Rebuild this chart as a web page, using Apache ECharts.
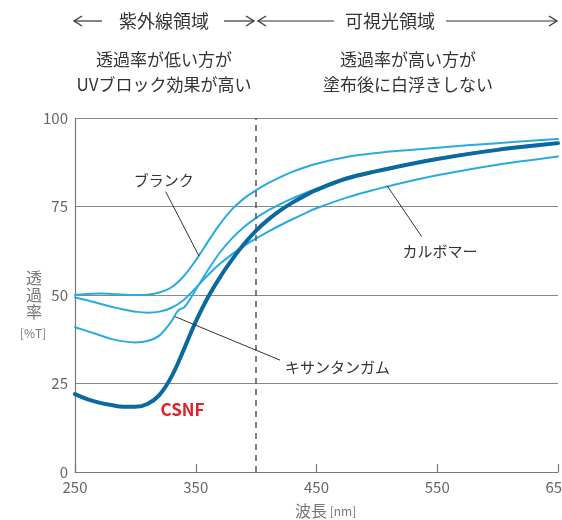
<!DOCTYPE html>
<html><head><meta charset="utf-8">
<script src="https://cdn.jsdelivr.net/npm/echarts@6.0.0/dist/echarts.min.js"></script>
<style>html,body{margin:0;padding:0;background:#fff}#c{width:562px;height:520px}</style>
</head><body><div id="c"></div>
<script>
// ---- data (wavelength nm, transmittance %T) ----
const wavelengths = [250,260,270,280,290,300,310,320,330,340,350,360,370,380,390,400,410,420,430,440,450,475,500,525,550,575,600,625,650];
const blank    = [50.0,50.3,50.4,50.3,50.1,50.0,50.1,50.7,52.2,55.3,59.8,65.0,70.0,74.2,77.3,79.6,81.6,83.3,84.8,86.0,87.1,89.0,90.1,90.9,91.6,92.3,92.9,93.5,94.1];
const carbomer = [49.3,48.5,47.6,46.7,45.9,45.3,45.0,45.3,46.4,48.6,52.0,55.6,58.8,61.5,63.9,66.0,67.9,69.7,71.4,73.0,74.5,77.5,79.9,82.0,83.8,85.4,86.8,88.0,89.1];
const csnf     = [22.0,20.6,19.6,18.9,18.4,18.4,19.2,21.8,27.0,34.5,42.5,49.3,55.0,60.0,64.4,68.2,71.3,73.9,76.1,78.0,79.7,82.9,85.0,86.8,88.4,89.8,91.0,92.0,92.9];
const xanthanWavelengths = [250,260,270,280,290,300,310,320,330,334,337,340,343,350,360,370,380,390,400,410,420,430,440,450,475,500,525,550,575,600,625,650];
const xanthan  = [40.9,39.8,38.7,37.6,36.9,36.6,37.0,38.6,42.6,45.0,46.0,46.4,47.6,51.5,57.0,62.0,66.0,69.2,71.8,73.9,75.7,77.3,78.7,80.0,83.2,85.2,86.9,88.6,90.0,91.2,92.2,93.1];
const xTicks = [250,350,450,550,650];
const yTicks = [0,25,50,75,100];
const boundaryWavelength = 400;
const seriesNames = ['ブランク','カルボマー','キサンタンガム','CSNF'];

const FONT = "'Noto Sans CJK JP', 'Noto Sans', sans-serif";
const LIGHT = '#2aaae2', DARK = '#0a6a9e';
const pair = (xs, ys) => xs.map((x, i) => [x, ys[i]]);

const chart = echarts.init(document.getElementById('c'), null, {renderer: 'canvas'});
function lineSeries(name, data, color, width, z, smooth) {
  return {name, type: 'line', data, smooth, symbol: 'none', z,
    lineStyle: {color, width, cap: 'round', join: 'round'}, emphasis: {disabled: true}, animation: false};
}
const s = [
  lineSeries(seriesNames[0], pair(wavelengths, blank), LIGHT, 2, 2, 0.4),
  lineSeries(seriesNames[1], pair(wavelengths, carbomer), LIGHT, 2, 2, 0.4),
  lineSeries(seriesNames[2], pair(xanthanWavelengths, xanthan), LIGHT, 2, 2, 0.3),
  lineSeries(seriesNames[3], pair(wavelengths, csnf), DARK, 4, 3, 0.4)
];
s[0].markLine = {silent: true, symbol: 'none', animation: false,
  lineStyle: {color: '#555', type: [6, 5], width: 1.5}, label: {show: false},
  data: [{xAxis: boundaryWavelength}]};

chart.setOption({
  animation: false,
  backgroundColor: '#fff',
  grid: {left: 75, right: 4, top: 118, bottom: 48, containLabel: false, outerBoundsMode: 'none'},
  xAxis: {type: 'value', min: xTicks[0], max: xTicks[xTicks.length-1], interval: 100,
    axisLine: {lineStyle: {color: '#777', width: 1.2}},
    axisTick: {show: true, inside: true, length: 8, lineStyle: {color: '#777', width: 1.2}},
    axisLabel: {color: '#666', fontSize: 15, fontFamily: FONT, margin: 8},
    splitLine: {show: false}},
  yAxis: {type: 'value', min: yTicks[0], max: yTicks[yTicks.length-1], interval: 25,
    axisLine: {show: true, lineStyle: {color: '#777', width: 1.2}},
    axisTick: {show: false},
    axisLabel: {color: '#666', fontSize: 15, fontFamily: FONT, margin: 7},
    splitLine: {lineStyle: {color: '#888', width: 1}}},
  series: s
});

// ---- annotations (data coordinates) ----
const labels = [
  {text: 'ブランク', at: [323.5, 82.5], leader: [[325.1, 79.2], [352.7, 61.0]], color: '#333', size: 15},
  {text: 'カルボマー', at: [552.3, 62.3], leader: [[508.6, 80.8], [537.1, 66.5]], color: '#333', size: 15},
  {text: 'キサンタンガム', at: [467.4, 29.7], leader: [[332.8, 43.9], [419.8, 31.6]], color: '#333', size: 15},
  {text: 'CSNF', at: [339, 17.7], leader: null, color: '#e0202a', size: 17, weight: 'bold'}
];
const px = p => chart.convertToPixel({gridIndex: 0}, p);
const g = [];
labels.forEach(l => {
  const c = px(l.at);
  g.push({type: 'text', x: c[0], y: c[1], z: 10, style: {text: l.text, fill: l.color,
    font: (l.weight || 'normal') + ' ' + l.size + 'px ' + FONT, textAlign: 'center', textVerticalAlign: 'middle'}});
  if (l.leader) {
    g.push({type: 'polyline', z: 10, shape: {points: l.leader.map(px)}, style: {stroke: '#333', lineWidth: 1}});
  }
});
// top region headers
function arrow(x1, x2, y, headAt) {
  const d = headAt === x1 ? 1 : -1;
  g.push({type: 'polyline', shape: {points: [[x1, y], [x2, y]]}, style: {stroke: '#333', lineWidth: 1.2}});
  g.push({type: 'polyline', shape: {points: [[headAt + d*8, y-5], [headAt, y], [headAt + d*8, y+5]]}, style: {stroke: '#333', lineWidth: 1.2, fill: 'none'}});
}
const HY = 21;
arrow(74, 102, HY, 74);
arrow(224, 254, HY, 254);
arrow(258, 334, HY, 258);
arrow(446, 557, HY, 557);
function txt(t, x, y, size, color) {
  g.push({type: 'text', x, y, style: {text: t, fill: color || '#333', font: 'normal ' + size + 'px ' + FONT, textAlign: 'center', textVerticalAlign: 'middle'}});
}
txt('紫外線領域', 164, HY, 18);
txt('可視光領域', 390, HY, 18);
txt('透過率が低い方が', 164, 60, 17);
txt('UVブロック効果が高い', 164, 85, 17);
txt('透過率が高い方が', 408, 60, 17);
txt('塗布後に白浮きしない', 408, 85, 17);
// axis names
txt('透', 34, 278, 16, '#777');
txt('過', 34, 295, 16, '#777');
txt('率', 34, 312, 16, '#777');
txt('[%T]', 33, 333, 12, '#777');
txt('波長', 311, 511, 16, '#777');
txt('[nm]', 343, 511, 12, '#777');
chart.setOption({graphic: g});
</script></body></html>
